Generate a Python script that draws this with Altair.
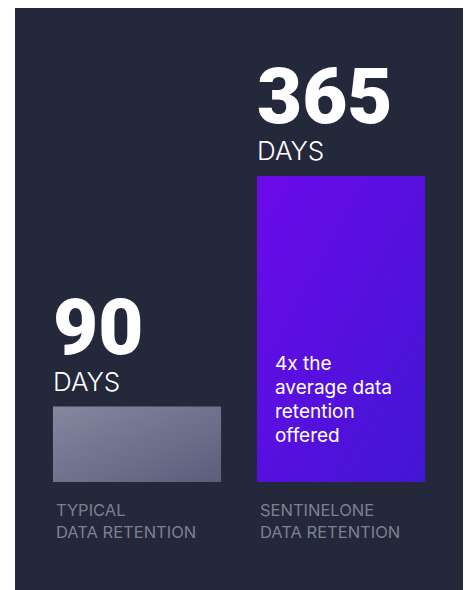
import altair as alt
import pandas as pd

categories = ["typical", "sentinelone"]
days = [90, 365]
value_text = ["90", "365"]
unit_label = ["DAYS", "DAYS"]
category_labels = ["TYPICAL\nDATA RETENTION", "SENTINELONE\nDATA RETENTION"]
note_text = ["", "4x the\naverage data\nretention\noffered"]

BG = "#23283b"
FONT = "Inter"

df = pd.DataFrame({
    "cat": categories,
    "days": days,
    "value_text": value_text,
    "unit": unit_label,
    "label": category_labels,
    "note": note_text,
})

xscale = alt.Scale(domain=categories, paddingInner=0.176, paddingOuter=0.186)
yscale = alt.Scale(domain=[-128.8, 565.4], nice=False, zero=False)

x_bar = alt.X("cat:N", sort=categories, axis=None, scale=xscale)
x_txt = alt.X("cat:N", sort=categories, axis=None, scale=xscale, bandPosition=0)
y_val = alt.Y("days:Q", axis=None, scale=yscale)

base = alt.Chart(df)

grad_typical = alt.Gradient(
    gradient="linear",
    stops=[alt.GradientStop(color="#8587a0", offset=0),
           alt.GradientStop(color="#5b5e7b", offset=1)],
    x1=0, y1=0, x2=1, y2=1,
)
grad_s1 = alt.Gradient(
    gradient="linear",
    stops=[alt.GradientStop(color="#6c0ae9", offset=0),
           alt.GradientStop(color="#4216d4", offset=1)],
    x1=0, y1=0, x2=1, y2=1,
)

bar1 = base.transform_filter(alt.datum.cat == "typical").mark_bar(
    fill=grad_typical, cornerRadius=0
).encode(x=x_bar, y=y_val)
bar2 = base.transform_filter(alt.datum.cat == "sentinelone").mark_bar(
    fill=grad_s1, cornerRadius=0
).encode(x=x_bar, y=y_val)

big = base.mark_text(
    font="Roboto", fontSize=78, fontWeight=900, color="white",
    align="left", baseline="alphabetic", dy=-53
).encode(x=x_txt, y=y_val, text="value_text:N")

unit = base.mark_text(
    font=FONT, fontSize=26, fontWeight=300, color="white",
    align="left", baseline="alphabetic", dy=-16
).encode(x=x_txt, y=y_val, text="unit:N")

note = base.mark_text(
    font=FONT, fontSize=19, fontWeight=400, color="white",
    align="left", baseline="alphabetic", dx=18, dy=194,
    lineBreak="\n", lineHeight=24
).encode(x=x_txt, y=y_val, text="note:N")

labels = base.mark_text(
    font=FONT, fontSize=16.5, fontWeight=400, color="#7d8092",
    align="left", baseline="alphabetic", dx=3, dy=34,
    lineBreak="\n", lineHeight=22
).encode(x=x_txt, y=alt.YDatum(0, axis=None, scale=yscale), text="label:N")

chart = alt.layer(bar1, bar2, big, unit, note, labels).properties(
    width=448, height=582,
    background="white",
    padding={"left": 7, "top": 0, "right": 0, "bottom": 0},
).configure_view(fill=BG, strokeWidth=0)

chart.save("out.html", embed_options={"renderer": "svg", "actions": False})
